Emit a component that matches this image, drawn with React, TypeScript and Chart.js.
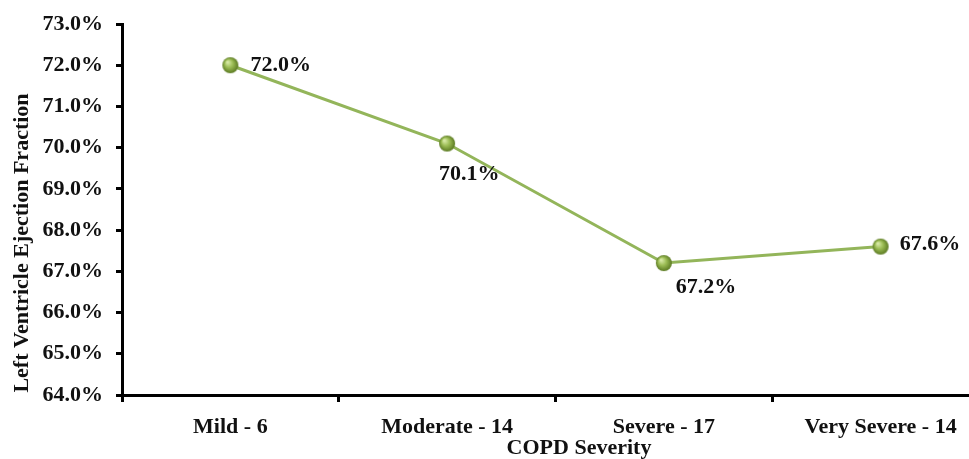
import React, { useEffect, useRef } from "react";
import { Chart, registerables } from "chart.js";

Chart.register(...registerables);

const categories = ["Mild - 6", "Moderate - 14", "Severe - 17", "Very Severe - 14"];
const lvef = [72.0, 70.1, 67.2, 67.6];
const dataLabels = ["72.0%", "70.1%", "67.2%", "67.6%"];
const yTicks = [64, 65, 66, 67, 68, 69, 70, 71, 72, 73];
const xTitle = "COPD Severity";
const yTitle = "Left Ventricle Ejection Fraction";

// label placement offsets (layout only)
const labelOffsets: [number, number, CanvasTextAlign][] = [
  [20, 0, "left"],
  [22, 31, "center"],
  [42, 24, "center"],
  [19, -2, "left"],
];

const FONT = "'Liberation Serif', 'Times New Roman', serif";
const TEXT = "#111";

function makeSphere(r: number) {
  const c = document.createElement("canvas");
  const s = r * 2 + 2;
  c.width = s;
  c.height = s;
  const ctx = c.getContext("2d")!;
  const cx = s / 2, cy = s / 2;
  const g = ctx.createRadialGradient(cx - r * 0.35, cy - r * 0.4, r * 0.1, cx, cy, r);
  g.addColorStop(0, "#d6e8a4");
  g.addColorStop(0.45, "#9cbd55");
  g.addColorStop(1, "#5b7a22");
  ctx.fillStyle = g;
  ctx.beginPath();
  ctx.arc(cx, cy, r, 0, Math.PI * 2);
  ctx.fill();
  return c;
}

export default function App() {
  const ref = useRef<HTMLCanvasElement>(null);
  useEffect(() => {
    document.body.style.margin = "0";
    const canvas = ref.current!;
    const sphere = makeSphere(8);
    const labelsPlugin = {
      id: "customText",
      afterDatasetsDraw(chart: any) {
        const ctx = chart.ctx;
        const meta = chart.getDatasetMeta(0);
        ctx.save();
        ctx.font = `bold 22px ${FONT}`;
        ctx.fillStyle = TEXT;
        ctx.textBaseline = "middle";
        meta.data.forEach((pt: any, i: number) => {
          const [dx, dy, al] = labelOffsets[i];
          ctx.textAlign = al;
          ctx.fillText(dataLabels[i], pt.x + dx, pt.y + dy);
        });
        ctx.restore();
      },
      afterDraw(chart: any) {
        const ctx = chart.ctx;
        ctx.save();
        ctx.font = `bold 22px ${FONT}`;
        ctx.fillStyle = TEXT;
        ctx.textAlign = "center";
        ctx.textBaseline = "middle";
        ctx.fillText(xTitle, 579, 448);
        ctx.translate(22, 243);
        ctx.rotate(-Math.PI / 2);
        ctx.fillText(yTitle, 0, 0);
        ctx.restore();
      },
    };
    const chart = new Chart(canvas, {
      type: "line",
      data: {
        labels: categories,
        datasets: [
          {
            data: lvef,
            borderColor: "#93b55a",
            borderWidth: 3,
            pointStyle: sphere as any,
            pointRadius: 8,
            pointHoverRadius: 8,
            tension: 0,
            fill: false,
          },
        ],
      },
      options: {
        responsive: false,
        animation: false,
        layout: { padding: { top: 24, right: 4, left: 0, bottom: 0 } },
        plugins: { legend: { display: false }, tooltip: { enabled: false } },
        scales: {
          x: {
            type: "category",
            offset: true,
            grid: {
              offset: true,
              drawOnChartArea: false,
              drawTicks: true,
              tickLength: 7,
              tickWidth: 3,
              tickColor: "#000",
            },
            border: { display: true, color: "#000", width: 3 },
            ticks: {
              color: TEXT,
              font: { family: FONT, size: 22, weight: "bold" },
              padding: 12,
              maxRotation: 0,
            },
            afterFit: (s: any) => {
              s.height = 64;
            },
          },
          y: {
            min: 64,
            max: 73,
            afterBuildTicks: (s: any) => {
              s.ticks = yTicks.map((v) => ({ value: v }));
            },
            grid: {
              drawOnChartArea: false,
              drawTicks: true,
              tickLength: 6,
              tickWidth: 3,
              tickColor: "#000",
            },
            border: { display: true, color: "#000", width: 3 },
            ticks: {
              color: TEXT,
              font: { family: FONT, size: 22, weight: "bold", lineHeight: 1 },
              padding: 13,
              callback: (v: any) => Number(v).toFixed(1) + "%",
            },
            afterFit: (s: any) => {
              s.width = 122;
            },
          },
        },
      },
      plugins: [labelsPlugin],
    });
    return () => chart.destroy();
  }, []);
  return (
    <div style={{ position: "fixed", left: 0, top: 0, width: 969, height: 459, overflow: "hidden", background: "#fff" }}>
      <canvas ref={ref} width={1000} height={459} style={{ display: "block" }} />
    </div>
  );
}
